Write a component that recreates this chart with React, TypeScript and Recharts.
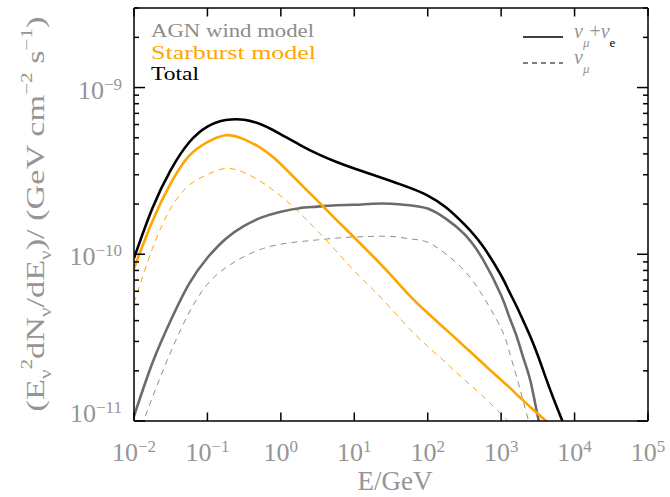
import React from 'react';
import { LineChart, Line, XAxis, YAxis } from 'recharts';

// energy grid in GeV
const ENERGY = [
  0.01, 0.0178, 0.0316, 0.0562, 0.1, 0.178, 0.316, 0.562, 1, 1.78,
  3.16, 5.62, 10, 17.8, 31.6, 56.2, 100, 178, 316, 562,
  1000, 1259, 1585, 1995, 2512, 3162, 3981, 5012, 6310, 7943,
];

// E^2 dN/dE in GeV cm^-2 s^-1
const TOTAL = [
  9.48e-11, 1.89e-10, 3.2e-10, 4.68e-10, 5.83e-10, 6.38e-10, 6.41e-10, 5.96e-10, 5.24e-10, 4.55e-10,
  4.0e-10, 3.59e-10, 3.27e-10, 3.0e-10, 2.75e-10, 2.51e-10, 2.25e-10, 1.91e-10, 1.51e-10, 1.12e-10,
  7.46e-11, 6.09e-11, 4.98e-11, 4.0e-11, 3.19e-11, 2.47e-11, 1.86e-11, 1.41e-11, 1.09e-11, 8.5e-12,
];
const AGN_ALL = [
  1.07e-11, 2.23e-11, 4.01e-11, 6.65e-11, 9.53e-11, 1.24e-10, 1.48e-10, 1.67e-10, 1.8e-10, 1.89e-10,
  1.93e-10, 1.97e-10, 1.98e-10, 2.01e-10, 2.01e-10, 1.97e-10, 1.88e-10, 1.63e-10, 1.32e-10, 9.35e-11,
  5.68e-11, 4.33e-11, 3.33e-11, 2.41e-11, 1.73e-11, 1.06e-11, 7.0e-12,
];
const AGN_NUMU = [
  6.98e-12, 1.385e-11, 2.59e-11, 4.46e-11, 6.62e-11, 8.32e-11, 9.68e-11, 1.08e-10, 1.15e-10, 1.19e-10,
  1.22e-10, 1.25e-10, 1.27e-10, 1.28e-10, 1.28e-10, 1.24e-10, 1.18e-10, 1.0e-10, 7.98e-11, 5.64e-11,
  3.59e-11, 2.71e-11, 1.91e-11, 1.32e-11, 9.1e-12,
];
const SB_ALL = [
  8.23e-11, 1.58e-10, 2.66e-10, 3.89e-10, 4.71e-10, 5.18e-10, 4.89e-10, 4.27e-10, 3.47e-10, 2.69e-10,
  2.09e-10, 1.62e-10, 1.26e-10, 9.77e-11, 7.5e-11, 5.67e-11, 4.44e-11, 3.53e-11, 2.8e-11, 2.22e-11,
  1.76e-11, 1.61e-11, 1.46e-11, 1.33e-11, 1.21e-11, 1.106e-11, 1.01e-11, 9.2e-12,
];
const SB_NUMU = [
  5.1e-11, 1.08e-10, 1.89e-10, 2.59e-10, 3.01e-10, 3.27e-10, 3.09e-10, 2.69e-10, 2.23e-10, 1.78e-10,
  1.38e-10, 1.05e-10, 7.94e-11, 6.17e-11, 4.73e-11, 3.58e-11, 2.8e-11, 2.23e-11, 1.77e-11, 1.41e-11,
  1.1e-11, 9.9e-12, 8.7e-12,
];

const X_TICKS = [1e-2, 1e-1, 1, 1e1, 1e2, 1e3, 1e4, 1e5];
const X_DOMAIN = [1e-2, 1e5];
const Y_DECADES = [1e-11, 1e-10, 1e-9];
const Y_STEPS = [1, 2, 3, 4, 5, 6, 7, 8, 9];
const Y_DOMAIN = [1e-11, 3e-9];

const LEGEND_LABELS = ['AGN wind model', 'Starburst model', 'Total'];

const Y_TICKS = Y_DECADES.flatMap((d) => Y_STEPS.map((m) => m * d)).filter(
  (v) => v <= Y_DOMAIN[1] * 1.0001
);

const rows = ENERGY.map((e, i) => ({
  e,
  total: TOTAL[i] ?? null,
  agn: AGN_ALL[i] ?? null,
  agnMu: AGN_NUMU[i] ?? null,
  sb: SB_ALL[i] ?? null,
  sbMu: SB_NUMU[i] ?? null,
}));

const GREY_TEXT = '#959595';
const AGN_LINE = '#6b6b6b';
const AGN_DASH = '#8e8e8e';
const ORANGE = '#FFA500';
const FONT = '"Liberation Serif", serif';

const isDecade = (v: number) => Math.abs(Math.log10(v) - Math.round(Math.log10(v))) < 1e-6;
const expOf = (v: number) => Math.round(Math.log10(v));
const expText = (n: number) => (n < 0 ? '\u2212' + Math.abs(n) : String(n));

const PowerLabel = ({ x, y, exp, anchor }: any) => (
  <text x={x} y={y} textAnchor={anchor} fill={GREY_TEXT} fontFamily={FONT} fontSize={26}>
    10
    <tspan dy={-9} fontSize={17}>
      {expText(exp)}
    </tspan>
  </text>
);

const BottomTick = ({ x, y, payload }: any) => (
  <g>
    <line x1={x} y1={y} x2={x} y2={y - 8.5} stroke="#000" strokeWidth={1.5} />
    <PowerLabel x={x} y={y + 40} exp={expOf(payload.value)} anchor="middle" />
  </g>
);

const TopTick = ({ x, y }: any) => (
  <line x1={x} y1={y} x2={x} y2={y + 8.5} stroke="#000" strokeWidth={1.5} />
);

const LeftTick = ({ x, y, payload }: any) => {
  const major = isDecade(payload.value);
  const atBottom = payload.value <= Y_DOMAIN[0] * 1.0001;
  return (
    <g>
      <line x1={x} y1={y} x2={x + (major ? 11 : 5)} y2={y} stroke="#000" strokeWidth={1.5} />
      {major && (
        <PowerLabel x={x - 12} y={y + (atBottom ? 1 : 11)} exp={expOf(payload.value)} anchor="end" />
      )}
    </g>
  );
};

const RightTick = ({ x, y, payload }: any) => {
  const major = isDecade(payload.value);
  return <line x1={x} y1={y} x2={x - (major ? 11 : 5)} y2={y} stroke="#000" strokeWidth={1.5} />;
};

const axisLine = { stroke: '#000', strokeWidth: 1.5 };

const App = () => {
  return (
    <div style={{ position: 'absolute', left: 0, top: 0, width: 670, height: 497, background: '#fff' }}>
      <LineChart width={670} height={497} data={rows} margin={{ top: 0, right: 0, bottom: 0, left: 0 }}>
        <XAxis
          dataKey="e"
          type="number"
          scale="log"
          domain={X_DOMAIN}
          ticks={X_TICKS}
          interval={0}
          allowDataOverflow
          height={76}
          axisLine={axisLine}
          tickLine={false}
          tickSize={0}
          tickMargin={0}
          tick={<BottomTick />}
        />
        <XAxis
          xAxisId="top"
          orientation="top"
          dataKey="e"
          type="number"
          scale="log"
          domain={X_DOMAIN}
          ticks={X_TICKS}
          interval={0}
          allowDataOverflow
          height={8}
          axisLine={axisLine}
          tickLine={false}
          tickSize={0}
          tickMargin={0}
          tick={<TopTick />}
        />
        <YAxis
          type="number"
          scale="log"
          domain={Y_DOMAIN}
          ticks={Y_TICKS}
          interval={0}
          allowDataOverflow
          width={134}
          axisLine={axisLine}
          tickLine={false}
          tickSize={0}
          tickMargin={0}
          tick={<LeftTick />}
        />
        <YAxis
          yAxisId="right"
          orientation="right"
          type="number"
          scale="log"
          domain={Y_DOMAIN}
          ticks={Y_TICKS}
          interval={0}
          allowDataOverflow
          width={22}
          axisLine={axisLine}
          tickLine={false}
          tickSize={0}
          tickMargin={0}
          tick={<RightTick />}
        />
        <Line dataKey="agnMu" type="natural" stroke={AGN_DASH} strokeWidth={1} strokeDasharray="6 5" dot={false} isAnimationActive={false} />
        <Line dataKey="sbMu" type="natural" stroke={ORANGE} strokeWidth={1} strokeDasharray="6 5" dot={false} isAnimationActive={false} />
        <Line dataKey="agn" type="natural" stroke={AGN_LINE} strokeWidth={2.6} dot={false} isAnimationActive={false} />
        <Line dataKey="sb" type="natural" stroke={ORANGE} strokeWidth={2.6} dot={false} isAnimationActive={false} />
        <Line dataKey="total" type="natural" stroke="#000" strokeWidth={2.6} dot={false} isAnimationActive={false} />
      </LineChart>

      <svg
        width={670}
        height={497}
        style={{ position: 'absolute', left: 0, top: 0, pointerEvents: 'none' }}
        fontFamily={FONT}
      >
        {/* model labels, top left */}
        <text x={151} y={37} fill="#8c8c8c" fontSize={18} textLength={163} lengthAdjust="spacingAndGlyphs">
          {LEGEND_LABELS[0]}
        </text>
        <text x={151} y={58.5} fill={ORANGE} fontSize={18} textLength={165} lengthAdjust="spacingAndGlyphs">
          {LEGEND_LABELS[1]}
        </text>
        <text x={151} y={80} fill="#000" fontSize={18} textLength={48} lengthAdjust="spacingAndGlyphs">
          {LEGEND_LABELS[2]}
        </text>

        {/* line style key, top right */}
        <line x1={523} y1={37} x2={563} y2={37} stroke="#000" strokeWidth={1.5} />
        <line x1={523} y1={63} x2={563} y2={63} stroke="#000" strokeWidth={1.2} strokeDasharray="5 4" />
        <text x={574} y={38} fill={GREY_TEXT} fontSize={20} fontStyle="italic">
          ν
          <tspan dy={9} fontSize={13}>μ</tspan>
          <tspan dy={-9} fontSize={20} fontStyle="normal">+</tspan>
          <tspan fontSize={20}>ν</tspan>
          <tspan dy={9} fontSize={13} fontStyle="normal" fill="#000">e</tspan>
        </text>
        <text x={574} y={64} fill={GREY_TEXT} fontSize={20} fontStyle="italic">
          ν
          <tspan dy={9} fontSize={13}>μ</tspan>
        </text>

        {/* axis titles */}
        <text x={395} y={490} textAnchor="middle" fill={GREY_TEXT} fontSize={27}>
          E/GeV
        </text>
        <text
          transform="translate(44,214) rotate(-90)"
          textAnchor="middle"
          fill={GREY_TEXT}
          fontSize={26}
          textLength={395}
          lengthAdjust="spacingAndGlyphs"
        >
          (E
          <tspan dy={7} fontSize={16}>ν</tspan>
          <tspan dy={-19} fontSize={16}>2</tspan>
          <tspan dy={12}>dN</tspan>
          <tspan dy={7} fontSize={16}>ν</tspan>
          <tspan dy={-7}>/dE</tspan>
          <tspan dy={7} fontSize={16}>ν</tspan>
          <tspan dy={-7}>)/ (GeV cm</tspan>
          <tspan dy={-12} fontSize={16}>{'\u22122'}</tspan>
          <tspan dy={12}> s</tspan>
          <tspan dy={-12} fontSize={16}>{'\u22121'}</tspan>
          <tspan dy={12}>)</tspan>
        </text>
      </svg>
    </div>
  );
};

export default App;
